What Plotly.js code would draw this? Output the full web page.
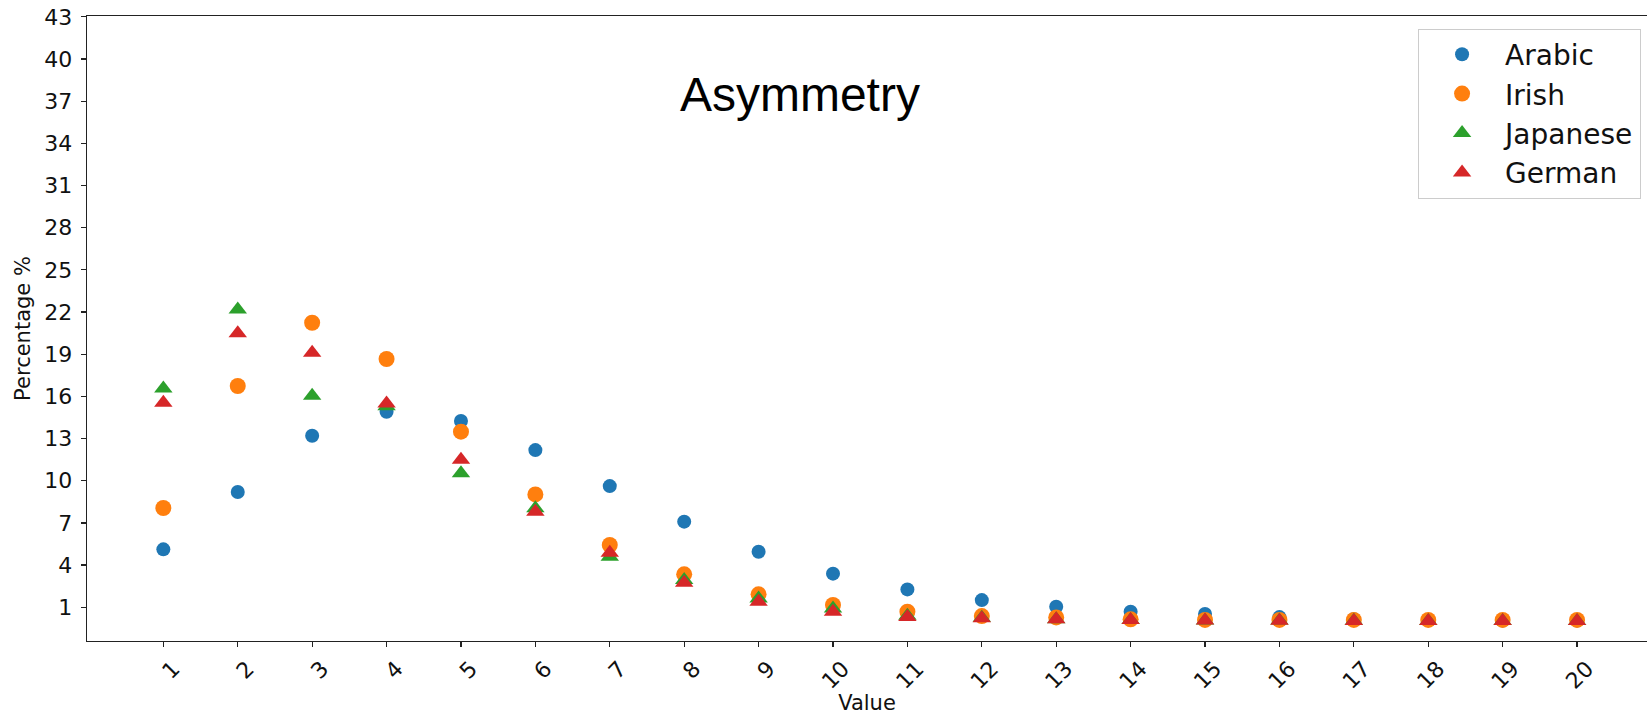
<!DOCTYPE html>
<html>
<head>
<meta charset="utf-8">
<script src="https://cdn.plot.ly/plotly-3.0.1.min.js"></script>
<style>html,body{margin:0;padding:0;background:#fff;}#chart{width:1647px;height:715px;}</style>
</head>
<body>
<div id="chart"></div>
<script>
const values = [1,2,3,4,5,6,7,8,9,10,11,12,13,14,15,16,17,18,19,20];
const arabic   = [5.12, 9.2, 13.2, 14.91, 14.25, 12.18, 9.62, 7.09, 4.95, 3.39, 2.27, 1.51, 1.04, 0.68, 0.52, 0.3, 0.15, 0.08, 0.06, 0.05];
const irish    = [8.06, 16.74, 21.24, 18.66, 13.49, 9.03, 5.43, 3.34, 1.92, 1.16, 0.68, 0.37, 0.28, 0.14, 0.1, 0.1, 0.1, 0.1, 0.1, 0.1];
const japanese = [16.57, 22.19, 16.05, 15.3, 10.53, 8.04, 4.6, 2.94, 1.63, 0.92, 0.4, 0.25, 0.15, 0.1, 0.06, 0.05, 0.04, 0.03, 0.03, 0.03];
const german   = [15.55, 20.49, 19.11, 15.5, 11.5, 7.8, 4.88, 2.74, 1.39, 0.68, 0.3, 0.21, 0.14, 0.09, 0.05, 0.04, 0.03, 0.02, 0.02, 0.02];
const yTicks = [1,4,7,10,13,16,19,22,25,28,31,34,37,40,43];
const seriesNames = ['Arabic','Irish','Japanese','German'];

const font = 'DejaVu Sans, sans-serif';
const traces = [
  {x: values, y: arabic, name: seriesNames[0], type: 'scatter', mode: 'markers',
   marker: {color: '#1f77b4', size: 14, symbol: 'circle'}},
  {x: values, y: irish, name: seriesNames[1], type: 'scatter', mode: 'markers',
   marker: {color: '#ff7f0e', size: 16, symbol: 'circle'}},
  {x: values, y: japanese, name: seriesNames[2], type: 'scatter', mode: 'markers',
   marker: {color: '#2ca02c', size: 16, symbol: 'triangle-up'}},
  {x: values, y: german, name: seriesNames[3], type: 'scatter', mode: 'markers',
   marker: {color: '#d62728', size: 16, symbol: 'triangle-up'}}
];

const layout = {
  width: 1647, height: 715,
  margin: {l: 87, r: 0, t: 16, b: 74, pad: 0},
  paper_bgcolor: '#fff', plot_bgcolor: '#fff',
  showlegend: true,
  title: {text: 'Asymmetry', font: {family: 'Liberation Sans, Arial, sans-serif', size: 48, color: '#000'},
          xref: 'paper', yref: 'container', x: 0.457, xanchor: 'center', y: 0.8676, yanchor: 'middle'},
  xaxis: {
    range: [-0.026, 20.94], tickmode: 'array', tickvals: values, ticktext: values.map(String),
    tickangle: -45, ticks: 'outside', ticklen: 5, tickwidth: 1.2, tickcolor: '#222',
    ticklabelshift: 10, ticklabelstandoff: 0,
    tickfont: {family: font, size: 22, color: '#111'},
    showline: true, linecolor: '#222', linewidth: 1.3, mirror: true,
    showgrid: false, zeroline: false, automargin: false,
    title: {text: 'Value', font: {family: font, size: 21, color: '#111'}, standoff: 4}
  },
  yaxis: {
    range: [-1.40, 43.06], tickmode: 'array', tickvals: yTicks, ticktext: yTicks.map(String),
    ticks: 'outside', ticklen: 5, tickwidth: 1.2, tickcolor: '#222', ticklabelstandoff: 4,
    tickfont: {family: font, size: 22, color: '#111'},
    showline: true, linecolor: '#222', linewidth: 1.3,
    showgrid: false, zeroline: false, automargin: false,
    title: {text: 'Percentage %', font: {family: font, size: 21, color: '#111'}, standoff: 8}
  },
  legend: {
    x: 0.9962, xanchor: 'right', y: 0.98, yanchor: 'top',
    bgcolor: 'rgba(255,255,255,0.8)', bordercolor: '#cccccc', borderwidth: 1,
    font: {family: font, size: 28, color: '#111'},
    itemwidth: 76, tracegroupgap: 0
  }
};

Plotly.newPlot('chart', traces, layout, {displayModeBar: false, staticPlot: true});
</script>
</body>
</html>
